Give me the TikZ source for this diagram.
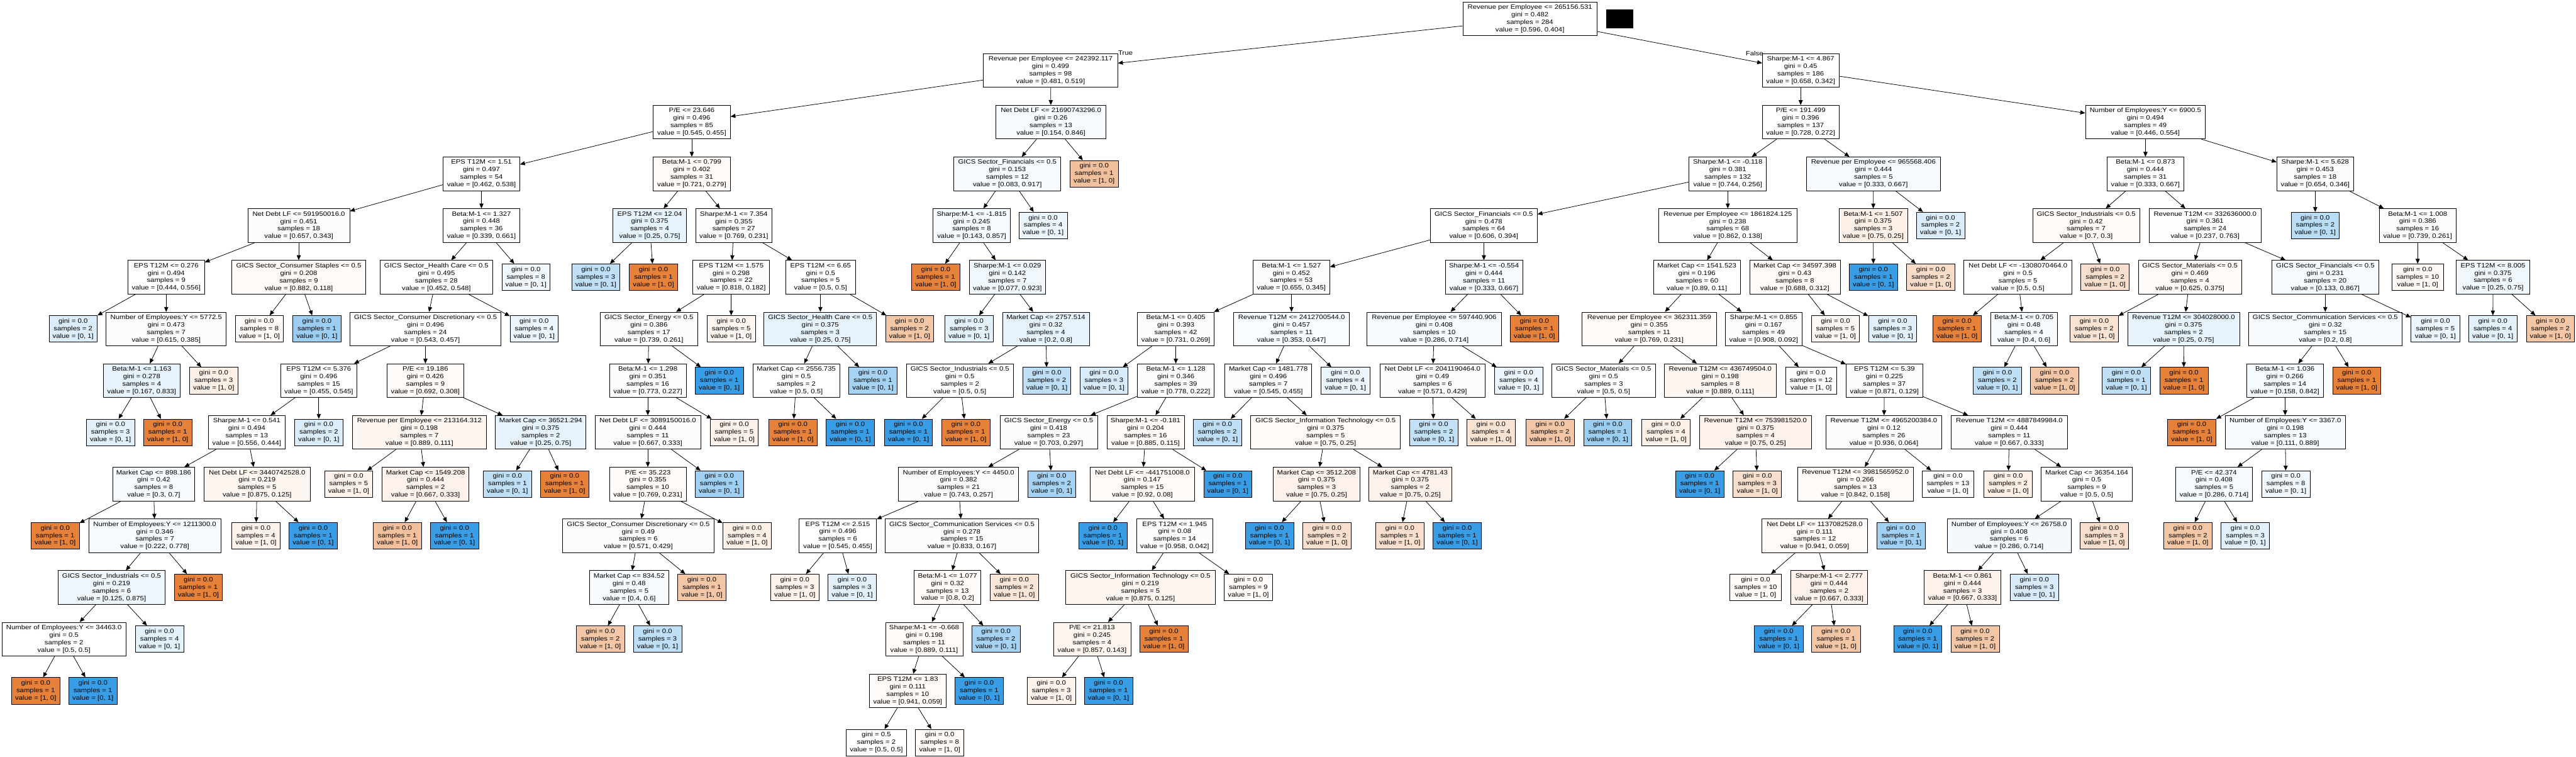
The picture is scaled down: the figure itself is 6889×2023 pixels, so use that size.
\documentclass[tikz,border=0pt]{standalone}
\usepackage{fontspec}
\usetikzlibrary{arrows.meta}
\newfontfamily\treefont[FakeStretch=1.136]{Liberation Sans}
\definecolor{cO}{RGB}{229,129,57}
\definecolor{cB}{RGB}{57,157,229}
\tikzset{
  tnode/.style={draw=black, line width=1.3pt, rectangle, align=center, inner xsep=3pt, inner ysep=0pt,
    minimum height=90pt, font=\treefont\fontsize{16.8}{20}\selectfont},
  lnode/.style={tnode, minimum height=71pt},
  edge/.style={draw=black, line width=1.3pt, -{Triangle[length=13pt,width=11pt]}},
  lbl/.style={inner sep=0pt, font=\treefont\fontsize{16.8}{20}\selectfont}
}
\newcommand\TN[9]{\node[tnode, minimum width=#4pt, fill=#5] (#1) at (#3,#2) {#6\\gini = #7\\samples = #8\\value = [#9]};}
\newcommand\LN[8]{\node[lnode, minimum width=#4pt, fill=#5] (#1) at (#3,#2) {gini = #6\\samples = #7\\value = [#8]};}
\begin{document}
\begin{tikzpicture}[x=1pt, y=-138.2pt]
\fill[white] (0pt,50pt) rectangle (6889pt,-1973pt);
\path[use as bounding box] (0pt,50pt) rectangle (6889pt,-1973pt);
% row 0
\TN{root}{0}{4091.5}{359}{white}{Revenue per Employee <= 265156.531}{0.482}{284}{0.596, 0.404}
\node[fill=black, minimum width=73pt, minimum height=50pt, inner sep=0pt] (redact) at (4331.5,0.007) {};
% row 1
\TN{A}{1}{2809.5}{359}{white}{Revenue per Employee <= 242392.117}{0.499}{98}{0.481, 0.519}
\TN{B}{1}{4815.5}{205}{white}{Sharpe:M-1 <= 4.867}{0.45}{186}{0.658, 0.342}
% row 2
\TN{A1}{2}{1850}{206}{white}{P/E <= 23.646}{0.496}{85}{0.545, 0.455}
\TN{A2}{2}{2810.5}{295}{cB!4}{Net Debt LF <= 21690743296.0}{0.26}{13}{0.154, 0.846}
\TN{B1}{2}{4815.5}{205}{white}{P/E <= 191.499}{0.396}{137}{0.728, 0.272}
\TN{B2}{2}{5737.5}{321}{white}{Number of Employees:Y <= 6900.5}{0.494}{49}{0.446, 0.554}
% row 3
\TN{A11}{3}{1287.5}{205}{white}{EPS T12M <= 1.51}{0.497}{54}{0.462, 0.538}
\TN{A12}{3}{1850}{206}{cO!3}{Beta:M-1 <= 0.799}{0.402}{31}{0.721, 0.279}
\TN{A21}{3}{2694}{286}{cB!5}{GICS Sector\_Financials <= 0.5}{0.153}{12}{0.083, 0.917}
\LN{A22}{3}{2926}{130}{cO!50}{0.0}{1}{1, 0}
\TN{B11}{3}{4620.5}{207}{white}{Sharpe:M-1 <= -0.118}{0.381}{132}{0.744, 0.256}
\TN{B12}{3}{5010}{358}{cB!5}{Revenue per Employee <= 965568.406}{0.444}{5}{0.333, 0.667}
\TN{B21}{3}{5737.5}{205}{white}{Beta:M-1 <= 0.873}{0.444}{31}{0.333, 0.667}
\TN{B22}{3}{6191.5}{205}{cO!2}{Sharpe:M-1 <= 5.628}{0.453}{18}{0.654, 0.346}
% row 4
\TN{A111}{4}{799}{272}{cO!2}{Net Debt LF <= 591950016.0}{0.451}{18}{0.657, 0.343}
\TN{A112}{4}{1287.5}{205}{white}{Beta:M-1 <= 1.327}{0.448}{36}{0.339, 0.661}
\TN{A121}{4}{1737.5}{197}{cB!12}{EPS T12M <= 12.04}{0.375}{4}{0.25, 0.75}
\TN{A122}{4}{1962.5}{205}{cO!2}{Sharpe:M-1 <= 7.354}{0.355}{27}{0.769, 0.231}
\TN{A211}{4}{2598.5}{207}{cB!5}{Sharpe:M-1 <= -1.815}{0.245}{8}{0.143, 0.857}
\LN{A212}{4}{2789.5}{129}{cB!10}{0.0}{4}{0, 1}
\TN{B111}{4}{3968}{286}{white}{GICS Sector\_Financials <= 0.5}{0.478}{64}{0.606, 0.394}
\TN{B112}{4}{4620.5}{369}{white}{Revenue per Employee <= 1861824.125}{0.238}{68}{0.862, 0.138}
\TN{B121}{4}{5009.5}{183}{cO!12}{Beta:M-1 <= 1.507}{0.375}{3}{0.75, 0.25}
\LN{B122}{4}{5189.5}{129}{cB!18}{0.0}{2}{0, 1}
\TN{B211}{4}{5579}{286}{cO!4}{GICS Sector\_Industrials <= 0.5}{0.42}{7}{0.7, 0.3}
\TN{B212}{4}{5897}{300}{cB!2}{Revenue T12M <= 332636000.0}{0.361}{24}{0.237, 0.763}
\LN{B221}{4}{6191.5}{129}{cB!35}{0.0}{2}{0, 1}
\TN{B222}{4}{6465.5}{205}{cO!2}{Beta:M-1 <= 1.008}{0.386}{16}{0.739, 0.261}
% row 5
\TN{A1111}{5}{444.5}{205}{white}{EPS T12M <= 0.276}{0.494}{9}{0.444, 0.556}
\TN{A1112}{5}{799}{358}{cO!4}{GICS Sector\_Consumer Staples <= 0.5}{0.208}{9}{0.882, 0.118}
\TN{A1121}{5}{1167}{300}{white}{GICS Sector\_Health Care <= 0.5}{0.495}{28}{0.452, 0.548}
\LN{A1122}{5}{1406.5}{129}{cB!7}{0.0}{8}{0, 1}
\LN{A1211}{5}{1593.5}{129}{cB!33}{0.0}{3}{0, 1}
\LN{A1212}{5}{1747.5}{129}{cO}{0.0}{1}{1, 0}
\TN{A1221}{5}{1955.5}{205}{cO!2}{EPS T12M <= 1.575}{0.298}{22}{0.818, 0.182}
\TN{A1222}{5}{2194.5}{187}{white}{EPS T12M <= 6.65}{0.5}{5}{0.5, 0.5}
\LN{A2111}{5}{2502.5}{129}{cO}{0.0}{1}{1, 0}
\TN{A2112}{5}{2694}{204}{cB!7}{Sharpe:M-1 <= 0.029}{0.142}{7}{0.077, 0.923}
\TN{B1111}{5}{3453.5}{205}{cO!2}{Beta:M-1 <= 1.527}{0.452}{53}{0.655, 0.345}
\TN{B1112}{5}{3968.5}{207}{cB!4}{Sharpe:M-1 <= -0.554}{0.444}{11}{0.333, 0.667}
\TN{B1121}{5}{4538}{232}{white}{Market Cap <= 1541.523}{0.196}{60}{0.89, 0.11}
\TN{B1122}{5}{4800}{242}{cO!3}{Market Cap <= 34597.398}{0.43}{8}{0.688, 0.312}
\LN{B1211}{5}{5010}{130}{cB}{0.0}{1}{0, 1}
\LN{B1212}{5}{5163.5}{129}{cO!28}{0.0}{2}{1, 0}
\TN{B2111}{5}{5396.5}{289}{white}{Net Debt LF <= -1308070464.0}{0.5}{5}{0.5, 0.5}
\LN{B2112}{5}{5629.5}{129}{cO!25}{0.0}{2}{1, 0}
\TN{B2121}{5}{5856.5}{275}{cO!3}{GICS Sector\_Materials <= 0.5}{0.469}{4}{0.625, 0.375}
\TN{B2122}{5}{6218.5}{285}{cB!5}{GICS Sector\_Financials <= 0.5}{0.231}{20}{0.133, 0.867}
\LN{B2221}{5}{6465.5}{137}{cO!5}{0.0}{10}{1, 0}
\TN{B2222}{5}{6667}{196}{cB!7}{EPS T12M <= 8.005}{0.375}{6}{0.25, 0.75}
% row 6
\LN{A11111}{6}{195.5}{129}{cB!18}{0.0}{2}{0, 1}
\TN{A11112}{6}{444.5}{321}{cO!2}{Number of Employees:Y <= 5772.5}{0.473}{7}{0.615, 0.385}
\LN{A11121}{6}{693.5}{129}{cO!4}{0.0}{8}{1, 0}
\LN{A11122}{6}{847.5}{129}{cB!50}{0.0}{1}{0, 1}
\TN{A11211}{6}{1138}{404}{white}{GICS Sector\_Consumer Discretionary <= 0.5}{0.496}{24}{0.543, 0.457}
\LN{A11212}{6}{1428.5}{129}{cB!10}{0.0}{4}{0, 1}
\TN{A12211}{6}{1735.5}{261}{cO!2}{GICS Sector\_Energy <= 0.5}{0.386}{17}{0.739, 0.261}
\LN{A12212}{6}{1955.5}{129}{cO!8}{0.0}{5}{1, 0}
\TN{A12221}{6}{2193.5}{301}{cB!12}{GICS Sector\_Health Care <= 0.5}{0.375}{3}{0.25, 0.75}
\LN{A12222}{6}{2432.5}{129}{cO!45}{0.0}{2}{1, 0}
\LN{A21121}{6}{2591.5}{129}{cB!14}{0.0}{3}{0, 1}
\TN{A21122}{6}{2797}{232}{cB!12}{Market Cap <= 2757.514}{0.32}{4}{0.2, 0.8}
\TN{B11111}{6}{3144.5}{205}{cO!2}{Beta:M-1 <= 0.405}{0.393}{42}{0.731, 0.269}
\TN{B11112}{6}{3454}{310}{cB!3}{Revenue T12M <= 2412700544.0}{0.457}{11}{0.353, 0.647}
\TN{B11121}{6}{3835.5}{359}{cB!4}{Revenue per Employee <= 597440.906}{0.408}{10}{0.286, 0.714}
\LN{B11122}{6}{4103.5}{129}{cO}{0.0}{1}{1, 0}
\TN{B11211}{6}{4410.5}{359}{cO!3}{Revenue per Employee <= 362311.359}{0.355}{11}{0.769, 0.231}
\TN{B11212}{6}{4716.5}{205}{cO!2}{Sharpe:M-1 <= 0.855}{0.167}{49}{0.908, 0.092}
\LN{B11221}{6}{4908.5}{129}{cO!6}{0.0}{5}{1, 0}
\LN{B11222}{6}{5061.5}{129}{cB!15}{0.0}{3}{0, 1}
\LN{B21111}{6}{5233.5}{129}{cO}{0.0}{1}{1, 0}
\TN{B21112}{6}{5412.5}{179}{cB!4}{Beta:M-1 <= 0.705}{0.48}{4}{0.4, 0.6}
\LN{B21211}{6}{5600.5}{129}{cO!22}{0.0}{2}{1, 0}
\TN{B21212}{6}{5839.5}{299}{cB!12}{Revenue T12M <= 304028000.0}{0.375}{2}{0.25, 0.75}
\TN{B21221}{6}{6218.5}{411}{cB!4}{GICS Sector\_Communication Services <= 0.5}{0.32}{15}{0.2, 0.8}
\LN{B21222}{6}{6513}{130}{cB!10}{0.0}{5}{0, 1}
\LN{B22221}{6}{6666.5}{129}{cB!14}{0.0}{4}{0, 1}
\LN{B22222}{6}{6820.5}{129}{cO!45}{0.0}{2}{1, 0}
% row 7
\TN{A111121}{7}{379}{206}{cB!12}{Beta:M-1 <= 1.163}{0.278}{4}{0.167, 0.833}
\LN{A111122}{7}{571.5}{129}{cO!12}{0.0}{3}{1, 0}
\TN{A112111}{7}{852.5}{205}{white}{EPS T12M <= 5.376}{0.496}{15}{0.455, 0.545}
\TN{A112112}{7}{1137.5}{205}{cO!3}{P/E <= 19.186}{0.426}{9}{0.692, 0.308}
\TN{A122111}{7}{1732.5}{205}{cO!2}{Beta:M-1 <= 1.298}{0.351}{16}{0.773, 0.227}
\LN{A122112}{7}{1923.5}{129}{cB}{0.0}{1}{0, 1}
\TN{A122211}{7}{2129.5}{233}{white}{Market Cap <= 2556.735}{0.5}{2}{0.5, 0.5}
\LN{A122212}{7}{2334.5}{129}{cB!45}{0.0}{1}{0, 1}
\TN{A211221}{7}{2567}{286}{white}{GICS Sector\_Industrials <= 0.5}{0.5}{2}{0.5, 0.5}
\LN{A211222}{7}{2799.5}{129}{cB!33}{0.0}{2}{0, 1}
\LN{B111111}{7}{2952.5}{129}{cB!20}{0.0}{3}{0, 1}
\TN{B111112}{7}{3144.5}{205}{cO!2}{Beta:M-1 <= 1.128}{0.346}{39}{0.778, 0.222}
\TN{B111121}{7}{3392}{232}{cO!2}{Market Cap <= 1481.778}{0.496}{7}{0.545, 0.455}
\LN{B111122}{7}{3598}{130}{cB!10}{0.0}{4}{0, 1}
\TN{B111211}{7}{3831}{282}{cO!2}{Net Debt LF <= 2041190464.0}{0.49}{6}{0.571, 0.429}
\LN{B111212}{7}{4061.5}{129}{cB!10}{0.0}{4}{0, 1}
\TN{B112111}{7}{4288.5}{277}{white}{GICS Sector\_Materials <= 0.5}{0.5}{3}{0.5, 0.5}
\TN{B112112}{7}{4600.5}{299}{cO!7}{Revenue T12M <= 436749504.0}{0.198}{8}{0.889, 0.111}
\LN{B112121}{7}{4843.5}{137}{cO!2}{0.0}{12}{1, 0}
\TN{B112122}{7}{5039.5}{205}{cO!2}{EPS T12M <= 5.39}{0.225}{37}{0.871, 0.129}
\LN{B211121}{7}{5341.5}{129}{cB!33}{0.0}{2}{0, 1}
\LN{B211122}{7}{5494.5}{129}{cO!45}{0.0}{2}{1, 0}
\LN{B212121}{7}{5686.5}{129}{cB!33}{0.0}{1}{0, 1}
\LN{B212122}{7}{5840.5}{129}{cO}{0.0}{1}{1, 0}
\TN{B212211}{7}{6110.5}{205}{cB!5}{Beta:M-1 <= 1.036}{0.266}{14}{0.158, 0.842}
\LN{B212212}{7}{6302.5}{129}{cO}{0.0}{1}{1, 0}
% row 8
\LN{A1111211}{8}{295.5}{129}{cB!15}{0.0}{3}{0, 1}
\LN{A1111212}{8}{448.5}{129}{cO}{0.0}{1}{1, 0}
\TN{A1121111}{8}{660}{206}{white}{Sharpe:M-1 <= 0.541}{0.494}{13}{0.556, 0.444}
\LN{A1121112}{8}{852.5}{129}{cB!18}{0.0}{2}{0, 1}
\TN{A1121121}{8}{1121.5}{359}{cO!7}{Revenue per Employee <= 213164.312}{0.198}{7}{0.889, 0.111}
\TN{A1121122}{8}{1446}{242}{cB!12}{Market Cap <= 36521.294}{0.375}{2}{0.25, 0.75}
\TN{A1221111}{8}{1732.5}{283}{cO!2}{Net Debt LF <= 3089150016.0}{0.444}{11}{0.667, 0.333}
\LN{A1221112}{8}{1963.5}{129}{cO!10}{0.0}{5}{1, 0}
\LN{A1222111}{8}{2120.5}{129}{cO}{0.0}{1}{1, 0}
\LN{A1222112}{8}{2274}{130}{cB}{0.0}{1}{0, 1}
\LN{A2112211}{8}{2429.5}{129}{cB}{0.0}{1}{0, 1}
\LN{A2112212}{8}{2583}{130}{cO}{0.0}{1}{1, 0}
\TN{B1111121}{8}{2804.5}{261}{cO!2}{GICS Sector\_Energy <= 0.5}{0.418}{23}{0.703, 0.297}
\TN{B1111122}{8}{3063.5}{207}{cO!3}{Sharpe:M-1 <= -0.181}{0.204}{16}{0.885, 0.115}
\LN{B1111211}{8}{3255.5}{129}{cB!33}{0.0}{2}{0, 1}
\TN{B1111212}{8}{3545}{400}{cO!4}{GICS Sector\_Information Technology <= 0.5}{0.375}{5}{0.75, 0.25}
\LN{B1112111}{8}{3834}{130}{cB!30}{0.0}{2}{0, 1}
\LN{B1112112}{8}{3987.5}{129}{cO!22}{0.0}{4}{1, 0}
\LN{B1121111}{8}{4145.5}{129}{cO!45}{0.0}{2}{1, 0}
\LN{B1121112}{8}{4299.5}{129}{cB!50}{0.0}{1}{0, 1}
\LN{B1121121}{8}{4455.5}{129}{cO!12}{0.0}{4}{1, 0}
\TN{B1121122}{8}{4694.5}{299}{cO!10}{Revenue T12M <= 753981520.0}{0.375}{4}{0.75, 0.25}
\TN{B1121221}{8}{5038}{310}{cO!2}{Revenue T12M <= 4965200384.0}{0.12}{26}{0.936, 0.064}
\TN{B1121222}{8}{5373.5}{311}{cO!2}{Revenue T12M <= 4887849984.0}{0.444}{11}{0.667, 0.333}
\LN{B2122111}{8}{5861.5}{129}{cO}{0.0}{1}{1, 0}
\TN{B2122112}{8}{6111.5}{321}{cB!4}{Number of Employees:Y <= 3367.0}{0.198}{13}{0.111, 0.889}
% row 9
\TN{A11211111}{9}{411}{220}{cB!4}{Market Cap <= 898.186}{0.42}{8}{0.3, 0.7}
\TN{A11211112}{9}{687.5}{283}{cO!7}{Net Debt LF <= 3440742528.0}{0.219}{5}{0.875, 0.125}
\LN{A11211211}{9}{932.5}{129}{cO!10}{0.0}{5}{1, 0}
\TN{A11211212}{9}{1138}{232}{cO!10}{Market Cap <= 1549.208}{0.444}{2}{0.667, 0.333}
\LN{A11211221}{9}{1357}{130}{cB!33}{0.0}{1}{0, 1}
\LN{A11211222}{9}{1510}{130}{cO}{0.0}{1}{1, 0}
\TN{A12211111}{9}{1732.5}{205}{cO!3}{P/E <= 35.223}{0.355}{10}{0.769, 0.231}
\LN{A12211112}{9}{1923.5}{129}{cB!48}{0.0}{1}{0, 1}
\TN{B11111211}{9}{2563.5}{321}{cO!2}{Number of Employees:Y <= 4450.0}{0.382}{21}{0.743, 0.257}
\LN{B11111212}{9}{2812.5}{129}{cB!45}{0.0}{2}{0, 1}
\TN{B11111221}{9}{3055}{278}{cO!4}{Net Debt LF <= -441751008.0}{0.147}{15}{0.92, 0.08}
\LN{B11111222}{9}{3283.5}{129}{cB}{0.0}{1}{0, 1}
\TN{B11112121}{9}{3521}{232}{cO!10}{Market Cap <= 3512.208}{0.375}{3}{0.75, 0.25}
\TN{B11112122}{9}{3771.5}{221}{cO!10}{Market Cap <= 4781.43}{0.375}{2}{0.75, 0.25}
\LN{B11211221}{9}{4545.5}{129}{cB}{0.0}{1}{0, 1}
\LN{B11211222}{9}{4699.5}{129}{cO!25}{0.0}{3}{1, 0}
\TN{B11212211}{9}{4962}{310}{cO!4}{Revenue T12M <= 3981565952.0}{0.266}{13}{0.842, 0.158}
\LN{B11212212}{9}{5209.5}{137}{cO!2}{0.0}{13}{1, 0}
\LN{B11212221}{9}{5370.5}{129}{cO!12}{0.0}{2}{1, 0}
\TN{B11212222}{9}{5580.5}{243}{white}{Market Cap <= 36354.164}{0.5}{9}{0.5, 0.5}
\TN{B21221121}{9}{5921}{206}{cB!5}{P/E <= 42.374}{0.408}{5}{0.286, 0.714}
\LN{B21221122}{9}{6113}{130}{cB!7}{0.0}{8}{0, 1}
% row 10
\LN{A112111111}{10}{147.5}{129}{cO}{0.0}{1}{1, 0}
\TN{A112111112}{10}{414}{354}{cB!5}{Number of Employees:Y <= 1211300.0}{0.346}{7}{0.222, 0.778}
\LN{A112111121}{10}{684.5}{129}{cO!10}{0.0}{4}{1, 0}
\LN{A112111122}{10}{837.5}{129}{cB}{0.0}{1}{0, 1}
\LN{A112112121}{10}{1062.5}{129}{cO!50}{0.0}{1}{1, 0}
\LN{A112112122}{10}{1215.5}{129}{cB}{0.0}{1}{0, 1}
\TN{A122111111}{10}{1707}{404}{cO!2}{GICS Sector\_Consumer Discretionary <= 0.5}{0.49}{6}{0.571, 0.429}
\LN{A122111112}{10}{1998}{130}{cO!12}{0.0}{4}{1, 0}
\TN{B111112111}{10}{2240.5}{207}{white}{EPS T12M <= 2.515}{0.496}{6}{0.545, 0.455}
\TN{B111112112}{10}{2572.5}{411}{cO!2}{GICS Sector\_Communication Services <= 0.5}{0.278}{15}{0.833, 0.167}
\LN{B111112211}{10}{2949.5}{129}{cB}{0.0}{1}{0, 1}
\TN{B111112212}{10}{3141.5}{205}{cO!2}{EPS T12M <= 1.945}{0.08}{14}{0.958, 0.042}
\LN{B111121211}{10}{3395}{130}{cB}{0.0}{1}{0, 1}
\LN{B111121212}{10}{3548.5}{129}{cO!25}{0.0}{2}{1, 0}
\LN{B111121221}{10}{3743.5}{129}{cO!25}{0.0}{1}{1, 0}
\LN{B111121222}{10}{3897}{130}{cB}{0.0}{1}{0, 1}
\TN{B112122111}{10}{4853}{282}{cO!4}{Net Debt LF <= 1137082528.0}{0.111}{12}{0.941, 0.059}
\LN{B112122112}{10}{5083.5}{129}{cB!48}{0.0}{1}{0, 1}
\TN{B112122221}{10}{5373}{332}{cB!6}{Number of Employees:Y <= 26758.0}{0.408}{6}{0.286, 0.714}
\LN{B112122222}{10}{5627.5}{129}{cO!25}{0.0}{3}{1, 0}
\LN{B212211211}{10}{5851}{130}{cO!45}{0.0}{2}{1, 0}
\LN{B212211212}{10}{6004.5}{129}{cB!15}{0.0}{3}{0, 1}
% row 11
\TN{A1121111121}{11}{298.5}{287}{cB!8}{GICS Sector\_Industrials <= 0.5}{0.219}{6}{0.125, 0.875}
\LN{A1121111122}{11}{530.5}{129}{cO}{0.0}{1}{1, 0}
\TN{A1221111111}{11}{1682.5}{211}{cB!4}{Market Cap <= 834.52}{0.48}{5}{0.4, 0.6}
\LN{A1221111112}{11}{1877}{130}{cO!45}{0.0}{1}{1, 0}
\LN{B1111121111}{11}{2125.5}{129}{cO!10}{0.0}{3}{1, 0}
\LN{B1111121112}{11}{2279}{130}{cB!15}{0.0}{3}{0, 1}
\TN{B1111121121}{11}{2534}{178}{cO!3}{Beta:M-1 <= 1.077}{0.32}{13}{0.8, 0.2}
\LN{B1111121122}{11}{2712.5}{129}{cO!20}{0.0}{2}{1, 0}
\TN{B1111122121}{11}{3050}{400}{cO!7}{GICS Sector\_Information Technology <= 0.5}{0.219}{5}{0.875, 0.125}
\LN{B1111122122}{11}{3338.5}{129}{cO!3}{0.0}{9}{1, 0}
\LN{B1121221111}{11}{4695}{138}{cO!3}{0.0}{10}{1, 0}
\TN{B1121221112}{11}{4891.5}{205}{cO!10}{Sharpe:M-1 <= 2.777}{0.444}{2}{0.667, 0.333}
\TN{B1121222211}{11}{5248.5}{205}{cO!10}{Beta:M-1 <= 0.861}{0.444}{3}{0.667, 0.333}
\LN{B1121222212}{11}{5440.5}{129}{cB!20}{0.0}{3}{0, 1}
% row 12
\TN{A11211111211}{12}{171}{332}{white}{Number of Employees:Y <= 34463.0}{0.5}{2}{0.5, 0.5}
\LN{A11211111212}{12}{426.5}{129}{cB!14}{0.0}{4}{0, 1}
\LN{A12211111111}{12}{1605.5}{129}{cO!45}{0.0}{2}{1, 0}
\LN{A12211111112}{12}{1758.5}{129}{cB!33}{0.0}{3}{0, 1}
\TN{B11111211211}{12}{2471.5}{207}{cO!3}{Sharpe:M-1 <= -0.668}{0.198}{11}{0.889, 0.111}
\LN{B11111211212}{12}{2663.5}{129}{cB!45}{0.0}{2}{0, 1}
\TN{B11111221211}{12}{2920.5}{207}{cO!8}{P/E <= 21.813}{0.245}{4}{0.857, 0.143}
\LN{B11111221212}{12}{3112.5}{129}{cO}{0.0}{1}{1, 0}
\LN{B11212211121}{12}{4757}{130}{cB}{0.0}{1}{0, 1}
\LN{B11212211122}{12}{4910}{130}{cO!45}{0.0}{1}{1, 0}
\LN{B11212222111}{12}{5128.5}{129}{cB}{0.0}{1}{0, 1}
\LN{B11212222112}{12}{5282}{130}{cO!45}{0.0}{2}{1, 0}
% row 13
\LN{A112111112111}{13}{95.5}{129}{cO}{0.0}{1}{1, 0}
\LN{A112111112112}{13}{248.5}{129}{cB}{0.0}{1}{0, 1}
\TN{B111112112111}{13}{2427.5}{205}{cO!3}{EPS T12M <= 1.83}{0.111}{10}{0.941, 0.059}
\LN{B111112112112}{13}{2618.5}{129}{cB}{0.0}{1}{0, 1}
\LN{B111112212111}{13}{2811.5}{129}{cO!10}{0.0}{3}{1, 0}
\LN{B111112212112}{13}{2964.5}{129}{cB}{0.0}{1}{0, 1}
% row 14
\LN{B1111121121111}{14}{2343.5}{161}{white}{0.5}{2}{0.5, 0.5}
\LN{B1111121121112}{14}{2513}{130}{cO!3}{0.0}{8}{1, 0}
% edges
\draw[edge] (root) -- (A);
\draw[edge] (root) -- (B);
\foreach \p in {A,B,A1,A2,B1,B2,A11,A12,A21,B11,B12,B21,B22,A111,A112,A121,A122,A211,B111,B112,B121,B211,B212,B222,A1111,A1112,A1121,A1221,A1222,A2112,B1111,B1112,B1121,B1122,B2111,B2121,B2122,B2222,A11112,A11211,A12211,A12221,A21122,B11111,B11112,B11121,B11211,B11212,B21112,B21212,B21221,A111121,A112111,A112112,A122111,A122211,A211221,B111112,B111121,B111211,B112111,B112112,B112122,B212211,A1121111,A1121121,A1121122,A1221111,B1111121,B1111122,B1111212,B1121122,B1121221,B1121222,B2122112,A11211111,A11211112,A11211212,A12211111,B11111211,B11111221,B11112121,B11112122,B11212211,B11212222,B21221121,A112111112,A122111111,B111112111,B111112112,B111112212,B112122111,B112122221,A1121111121,A1221111111,B1111121121,B1111122121,B1121221112,B1121222211,A11211111211,B11111211211,B11111221211,B111112112111}{
  \draw[edge] (\p) -- (\p1);
  \draw[edge] (\p) -- (\p2);
}
\node[lbl] (lblTrue) at (3010,0.658) {True};
\node[lbl] (lblFalse) at (4692,0.673) {False};
\end{tikzpicture}
\end{document}
